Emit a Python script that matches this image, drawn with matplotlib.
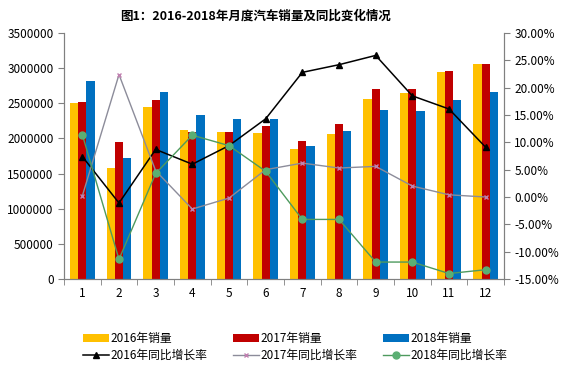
import numpy as np
import matplotlib
matplotlib.use('Agg')
import matplotlib.pyplot as plt
from matplotlib.ticker import FuncFormatter, FixedLocator

plt.rcParams['font.family'] = ['Noto Sans CJK SC', 'DejaVu Sans']

# ============================================================
# DATA
# ============================================================
months = ['1', '2', '3', '4', '5', '6', '7', '8', '9', '10', '11', '12']

sales_2016 = [2506000, 1578000, 2450000, 2116000, 2090000, 2080000,
              1855000, 2070000, 2560000, 2650000, 2940000, 3060000]
sales_2017 = [2520000, 1950000, 2545000, 2090000, 2090000, 2180000,
              1970000, 2200000, 2710000, 2710000, 2955000, 3060000]
sales_2018 = [2815000, 1720000, 2660000, 2330000, 2280000, 2280000,
              1890000, 2100000, 2400000, 2390000, 2545000, 2660000]

growth_2016 = [7.4, -1.1, 8.7, 6.0, 9.4, 14.3, 22.8, 24.2, 25.9, 18.5, 16.1, 9.1]
growth_2017 = [0.2, 22.4, 4.8, -2.2, -0.2, 5.0, 6.2, 5.3, 5.6, 2.0, 0.4, 0.0]
growth_2018 = [11.4, -11.4, 4.3, 11.3, 9.4, 4.7, -4.1, -4.1, -11.9, -11.9, -14.0, -13.3]

bar_labels = ['2016年销量', '2017年销量', '2018年销量']
line_labels = ['2016年同比增长率', '2017年同比增长率', '2018年同比增长率']
title = '图1：2016-2018年月度汽车销量及同比变化情况'

# ============================================================
# FIGURE
# ============================================================
fig = plt.figure(figsize=(5.68, 3.68), dpi=100)
ax = fig.add_axes([64 / 568, 1 - 279 / 368, 440 / 568, 246 / 368])
ax2 = ax.twinx()

x = np.arange(len(months))
w = 0.225
ax.bar(x - w, sales_2016, w, color='#FFC000', label=bar_labels[0])
ax.bar(x, sales_2017, w, color='#C00000', label=bar_labels[1])
ax.bar(x + w, sales_2018, w, color='#0070C0', label=bar_labels[2])

ax.set_xlim(-0.5, len(months) - 0.5)
ax.set_ylim(0, 3500000)
ax.set_yticks(np.arange(0, 3500001, 500000))
ax.yaxis.set_major_formatter(FuncFormatter(lambda v, p: f'{int(v)}'))

ax.set_xticks(x)
ax.set_xticklabels(months)
ax.xaxis.set_minor_locator(FixedLocator(np.arange(-0.5, len(months), 1)))
ax.tick_params(axis='x', which='major', length=0, pad=6)
ax.tick_params(axis='x', which='minor', length=4, color='#808080', direction='out')
ax.tick_params(axis='y', length=4, color='#808080', labelsize=8.5)
ax.tick_params(axis='x', labelsize=8.5)

ax2.plot(x, growth_2016, color='black', marker='^', markersize=5, lw=1.1,
         label=line_labels[0])
ax2.plot(x, growth_2017, color='#8C8C9A', marker='x', markersize=3.5, lw=1.0,
         markeredgecolor='#C080B0', label=line_labels[1])
ax2.plot(x, growth_2018, color='#4E9A5E', marker='o', markersize=5, lw=1.0,
         markerfacecolor='#5BAF73', markeredgecolor='#5BAF73', label=line_labels[2])
ax2.set_ylim(-15, 30)
ax2.set_yticks(np.arange(-15, 30.1, 5))
ax2.yaxis.set_major_formatter(FuncFormatter(lambda v, p: f'{v:.2f}%'))
ax2.tick_params(axis='y', length=4, color='#808080', labelsize=8.5)

for a in (ax, ax2):
    a.spines['top'].set_visible(False)
    for s in ('left', 'right', 'bottom'):
        a.spines[s].set_color('#808080')
        a.spines[s].set_linewidth(0.8)

fig.text(0.45, 1 - 16 / 368, title, ha='center', va='center',
         fontsize=9, fontweight='bold')

# legend below the chart: bars in first row, lines in second
h1, l1 = ax.get_legend_handles_labels()
h2, l2 = ax2.get_legend_handles_labels()
handles = []
labels = []
for i in range(3):
    handles += [h1[i], h2[i]]
    labels += [l1[i], l2[i]]
fig.legend(handles, labels, ncol=3, loc='center', bbox_to_anchor=(0.52, 1 - 347 / 368),
           frameon=False, fontsize=8.5, handlelength=2.2, handleheight=0.7,
           columnspacing=2.2, labelspacing=0.3, handletextpad=0.1)

plt.savefig('out.png', dpi=100)
